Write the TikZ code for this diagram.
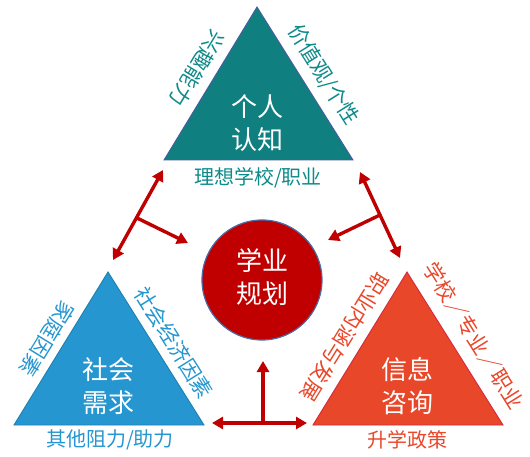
\documentclass[tikz,border=0pt]{standalone}
\usepackage{fontspec}
\setmainfont{Noto Sans CJK SC}
\usetikzlibrary{arrows.meta}
\definecolor{tealf}{HTML}{0F7F7F}
\definecolor{tealt}{HTML}{0E8A8A}
\definecolor{tealo}{HTML}{4B5C9E}
\definecolor{bluef}{HTML}{2596D0}
\definecolor{bluet}{HTML}{2596D0}
\definecolor{redf}{HTML}{E8472A}
\definecolor{redo}{HTML}{D42A3A}
\definecolor{redt}{HTML}{E8472A}
\definecolor{darkred}{HTML}{C00000}
\definecolor{circo}{HTML}{4A6DA8}
\tikzset{
  tri/.style={line width=0.9pt, line join=miter},
  maintext/.style={text=white, font=\fontsize{26}{33}\selectfont, align=center, inner sep=0pt},
  sidetext/.style={font=\fontsize{21}{21}\selectfont, inner sep=0pt},
  basetext/.style={font=\fontsize{20}{20}\selectfont, inner sep=0pt},
  arr/.style={draw=darkred, line width=3.4pt, {Triangle[length=11pt,width=12pt]}-{Triangle[length=11pt,width=12pt]}},
  arrone/.style={draw=darkred, line width=3.4pt, -{Triangle[length=11pt,width=12pt]}}
}
\begin{document}
\begin{tikzpicture}[x=1pt,y=-1pt]
\useasboundingbox (0,0) rectangle (530,457);
% top triangle
\coordinate (TA) at (257,7);
\coordinate (TB) at (164,160);
\coordinate (TC) at (353,160);
\draw[tri, fill=tealf, draw=tealo] (TA) -- (TB) -- (TC) -- cycle;
\node[maintext] (tmain) at (257,123) {个人\\认知};
\node[sidetext, text=tealt, rotate=-121.3] (tl) at (197,69) {兴趣能力};
\node[sidetext, text=tealt, rotate=-57.9] (tr) at (323,75) {价值观/个性};
\node[basetext, text=tealt] (tb) at (258,178) {理想学校/职业};
% blue triangle
\coordinate (BA) at (108,272);
\coordinate (BB) at (14,425);
\coordinate (BC) at (204,425);
\draw[tri, fill=bluef, draw=bluef!85!black] (BA) -- (BB) -- (BC) -- cycle;
\node[maintext] (bmain) at (108,386) {社会\\需求};
\node[sidetext, text=bluet, rotate=-121.6] (bl) at (47,339) {家庭因素};
\node[sidetext, text=bluet, rotate=-57.9] (br) at (174,343) {社会经济因素};
\node[basetext, text=bluet] (bb) at (110,440) {其他阻力/助力};
% red triangle
\coordinate (RA) at (407,272);
\coordinate (RB) at (313,425);
\coordinate (RC) at (503,425);
\draw[tri, fill=redf, draw=redo] (RA) -- (RB) -- (RC) -- cycle;
\node[maintext] (rmain) at (407,386) {信息\\咨询};
\node[sidetext, text=redt, rotate=-121.6] (rl) at (345,337) {职业内涵与发展};
\node[sidetext, text=redt, rotate=-57.9] (rr) at (473.5,335.5) {学校／专业／职业};
\node[basetext, text=redt] (rb) at (407,440) {升学政策};
% circle
\node[circle, minimum size=120pt, fill=darkred, draw=circo, line width=1.2pt, inner sep=0pt] (circ) at (262,280) {};
\node[maintext] (ctext) at (262,277) {学业\\规划};
% arrows
\coordinate (L1) at (163,170);
\coordinate (L2) at (113,260);
\coordinate (L3) at (137,218);
\coordinate (L4) at (188,243);
\draw[arr] (L2) -- (L1);
\draw[arrone] (L3) -- (L4);
\coordinate (R1) at (360,172);
\coordinate (R2) at (400,258);
\coordinate (R3) at (380,215);
\coordinate (R4) at (328,240);
\draw[arr] (R1) -- (R2);
\draw[arrone] (R3) -- (R4);
\coordinate (D1) at (212,423);
\coordinate (D2) at (307,423);
\coordinate (D3) at (263,424);
\coordinate (D4) at (263,361);
\draw[arr] (D1) -- (D2);
\draw[arrone] (D3) -- (D4);
\end{tikzpicture}
\end{document}
